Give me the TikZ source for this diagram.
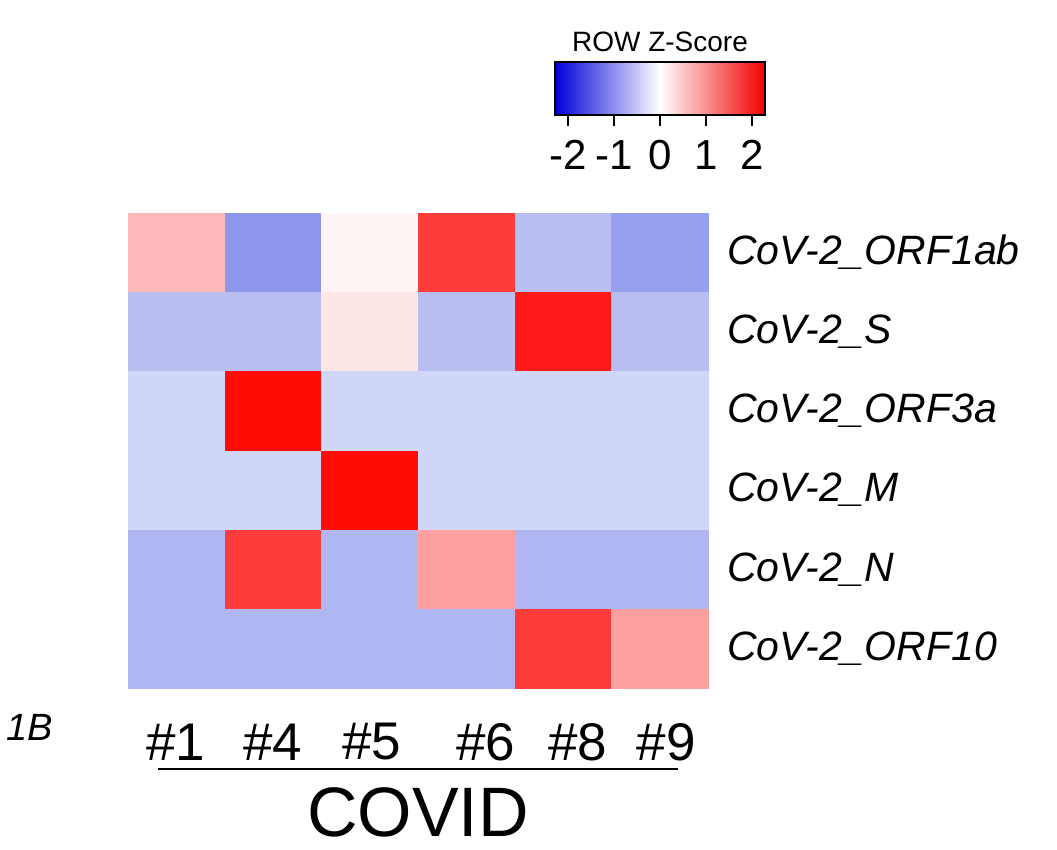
\documentclass[tikz,border=0pt]{standalone}
\usepackage{fontspec}
\setmainfont{Liberation Sans}
\begin{document}
\begin{tikzpicture}[x=1pt,y=-1pt,
  lab/.style={anchor=west,font=\fontsize{41}{44}\selectfont\itshape,inner sep=0pt},
  col/.style={font=\fontsize{53}{56}\selectfont,inner sep=0pt},
  tk/.style={font=\fontsize{42}{46}\selectfont,inner sep=0pt}]
\useasboundingbox (0,0) rectangle (1057,849);
\definecolor{c1}{RGB}{255,185,185}\definecolor{c2}{RGB}{140,150,235}
\definecolor{c3}{RGB}{255,245,245}\definecolor{c4}{RGB}{255,60,60}
\definecolor{c5}{RGB}{185,190,240}\definecolor{c6}{RGB}{150,160,238}
\definecolor{c7}{RGB}{255,230,230}\definecolor{c8}{RGB}{255,25,25}
\definecolor{c9}{RGB}{208,214,248}\definecolor{c10}{RGB}{255,12,5}
\definecolor{c11}{RGB}{175,182,242}\definecolor{c12}{RGB}{255,160,160}
\def\cw{96.67}\def\rh{79.17}
\foreach \r/\cols in {0/{c1,c2,c3,c4,c5,c6},1/{c5,c5,c7,c5,c8,c5},2/{c9,c10,c9,c9,c9,c9},3/{c9,c9,c10,c9,c9,c9},4/{c11,c4,c11,c12,c11,c11},5/{c11,c11,c11,c11,c4,c12}}{
  \foreach \c [count=\i from 0] in \cols {
    \fill[\c] ({128+\i*\cw},{213+\r*\rh}) rectangle ({128+\i*\cw+\cw+0.5},{213+\r*\rh+\rh+0.5});
  }
}
\foreach \t [count=\r from 0] in {ORF1ab,S,ORF3a,M,N,ORF10}
  \node[lab] (l\r) at (727,{252.6+\r*\rh}) {CoV-2\_\t};
\foreach \t/\x [count=\i from 0] in {1/176,4/273,5/372,6/486,8/578,9/666}
  \node[col] (h\i) at (\x,742) {\#\t};
\node[font=\fontsize{38}{42}\selectfont\itshape,inner sep=0pt] (b) at (30,727) {1B};
\coordinate (la) at (158,769); \coordinate (lb) at (678,769);
\draw[line width=2pt] (la) -- (lb);
\node[font=\fontsize{70}{74}\selectfont,inner sep=0pt] (cv) at (418,812) {COVID};
% colour key
\node[font=\fontsize{28}{30}\selectfont,inner sep=0pt] (kt) at (660,42) {ROW Z-Score};
\shade[left color=blue!85!black,right color=red!95!black,middle color=white] (555,62) rectangle (765,115);
\draw[line width=1.2pt] (555,62) rectangle (765,115);
\foreach \v/\x in {-2/568,-1/614,0/660,1/706,2/752}{
  \draw[line width=1.2pt] (\x,115) -- (\x,126);
  \node[tk] at (\x,155) {\v};}
\end{tikzpicture}
\end{document}
